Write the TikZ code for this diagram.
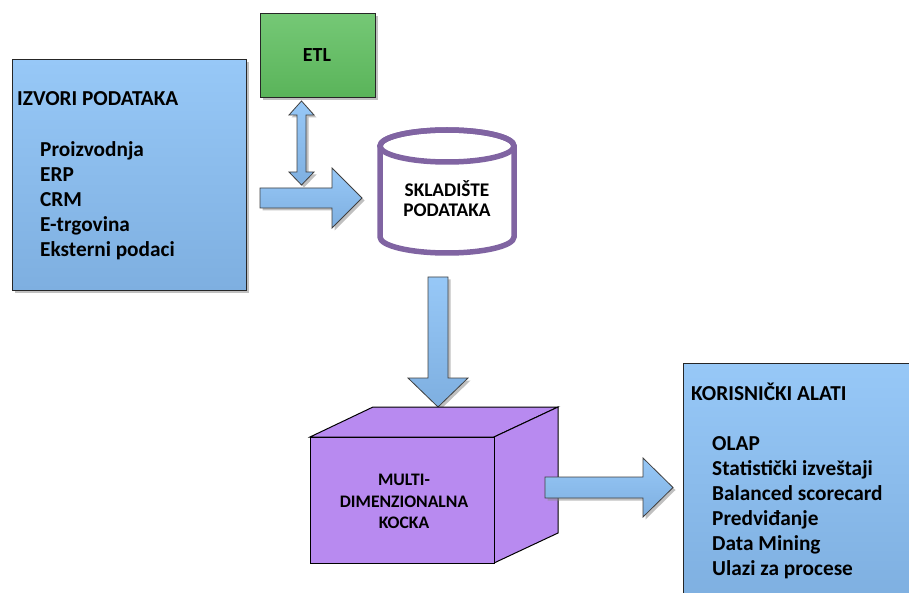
\documentclass[tikz,border=0pt]{standalone}
\usepackage{fontspec}
\setmainfont{Carlito}
\usetikzlibrary{shadows}
\definecolor{bluetop}{HTML}{97C8F7}
\definecolor{bluebot}{HTML}{7EAFE0}
\definecolor{greentop}{HTML}{75C876}
\definecolor{greenbot}{HTML}{5AB45A}
\definecolor{cubefill}{HTML}{B88AF0}
\definecolor{cylline}{HTML}{8064A2}
\tikzset{
  shade/.style={drop shadow={shadow xshift=2.5pt, shadow yshift=-2.5pt, fill=black!45, opacity=0.55}},
  bluebox/.style={shade, draw=black!85, line width=1pt, top color=bluetop, bottom color=bluebot, inner sep=0pt, anchor=north west},
  greenbox/.style={shade, draw=black!85, line width=1pt, top color=greentop, bottom color=greenbot, inner sep=0pt, anchor=north west},
  blockarrow/.style={shade, draw=black!75, line width=0.8pt, top color=bluetop, bottom color=bluebot},
  bigtxt/.style={font=\fontsize{21.3}{24}\selectfont\bfseries, inner sep=0pt, anchor=base west},
  midtxt/.style={font=\fontsize{19.3}{22}\selectfont\bfseries, inner sep=0pt, anchor=base},
  cubetxt/.style={font=\fontsize{17.6}{20}\selectfont\bfseries, inner sep=0pt, anchor=base},
  cubeface/.style={draw=black, line width=1pt, fill=cubefill},
}
\begin{document}
\begin{tikzpicture}[x=1pt,y=-1pt]
\useasboundingbox (0,0) rectangle (909,593);
\clip (0,0) rectangle (909,593);

% IZVORI PODATAKA box
\node[bluebox, minimum width=234pt, minimum height=231pt] (izvori) at (12,59) {};
\node[bigtxt] (izt) at (17,106) {IZVORI PODATAKA};
\node[bigtxt] (iz1) at (40,157) {Proizvodnja};
\node[bigtxt] (iz2) at (40,182) {ERP};
\node[bigtxt] (iz3) at (40,207) {CRM};
\node[bigtxt] (iz4) at (40,232) {E-trgovina};
\node[bigtxt] (iz5) at (40,257) {Eksterni podaci};

% ETL box
\node[greenbox, minimum width=115pt, minimum height=84pt] (etl) at (260,13) {};
\node[font=\fontsize{20}{22}\selectfont\bfseries, inner sep=0pt, anchor=base] (etlt) at (317,62) {ETL};

% double arrow ETL <-> flow
\draw[blockarrow] (301.5,101) -- (314,115) -- (306,115) -- (306,172) -- (314,172)
  -- (301.5,185) -- (289,172) -- (297,172) -- (297,115) -- (289,115) -- cycle;

% right arrow to warehouse
\draw[blockarrow] (260,188) -- (332,188) -- (332,168) -- (362,198) -- (332,228)
  -- (332,208) -- (260,208) -- cycle;

% cylinder (data warehouse)
\coordinate (cyl) at (447,191);
\draw[line width=5.5pt, draw=cylline, fill=white]
  (380,146) -- (380,237) arc[start angle=180, end angle=0, x radius=67, y radius=16]
  -- (514,146) arc[start angle=0, end angle=-180, x radius=67, y radius=16] -- cycle;
\draw[line width=5.5pt, draw=cylline] (447,146) ellipse[x radius=67, y radius=16];
\node[midtxt] (cylt1) at (447,197) {SKLADIŠTE};
\node[midtxt] (cylt2) at (447,217) {PODATAKA};

% down arrow
\draw[blockarrow] (428,277) -- (448,277) -- (448,378) -- (468,378) -- (438,407)
  -- (408,378) -- (428,378) -- cycle;

% cube
\draw[cubeface] (310,437) -- (373,407) -- (558,407) -- (494,437) -- cycle;
\draw[cubeface] (494,437) -- (558,407) -- (558,533) -- (494,563) -- cycle;
\node[cubeface, minimum width=184pt, minimum height=126pt, inner sep=0pt, anchor=north west] (cube) at (310,437) {};
\node[cubetxt] (cubet1) at (404,485) {MULTI-};
\node[cubetxt] (cubet2) at (404,507) {DIMENZIONALNA};
\node[cubetxt] (cubet3) at (404,528) {KOCKA};

% right arrow to tools
\draw[blockarrow] (545,477) -- (643,477) -- (643,458) -- (673,487.5) -- (643,517)
  -- (643,498) -- (545,498) -- cycle;

% KORISNIČKI ALATI box
\node[bluebox, minimum width=240pt, minimum height=240pt] (kor) at (683,363) {};
\node[bigtxt] (kort) at (691,400) {KORISNIČKI ALATI};
\node[bigtxt] (kor1) at (712,450) {OLAP};
\node[bigtxt] (kor2) at (712,475) {Statistički izveštaji};
\node[bigtxt] (kor3) at (712,500) {Balanced scorecard};
\node[bigtxt] (kor4) at (712,525) {Predviđanje};
\node[bigtxt] (kor5) at (712,550) {Data Mining};
\node[bigtxt] (kor6) at (712,575) {Ulazi za procese};
\end{tikzpicture}
\end{document}
